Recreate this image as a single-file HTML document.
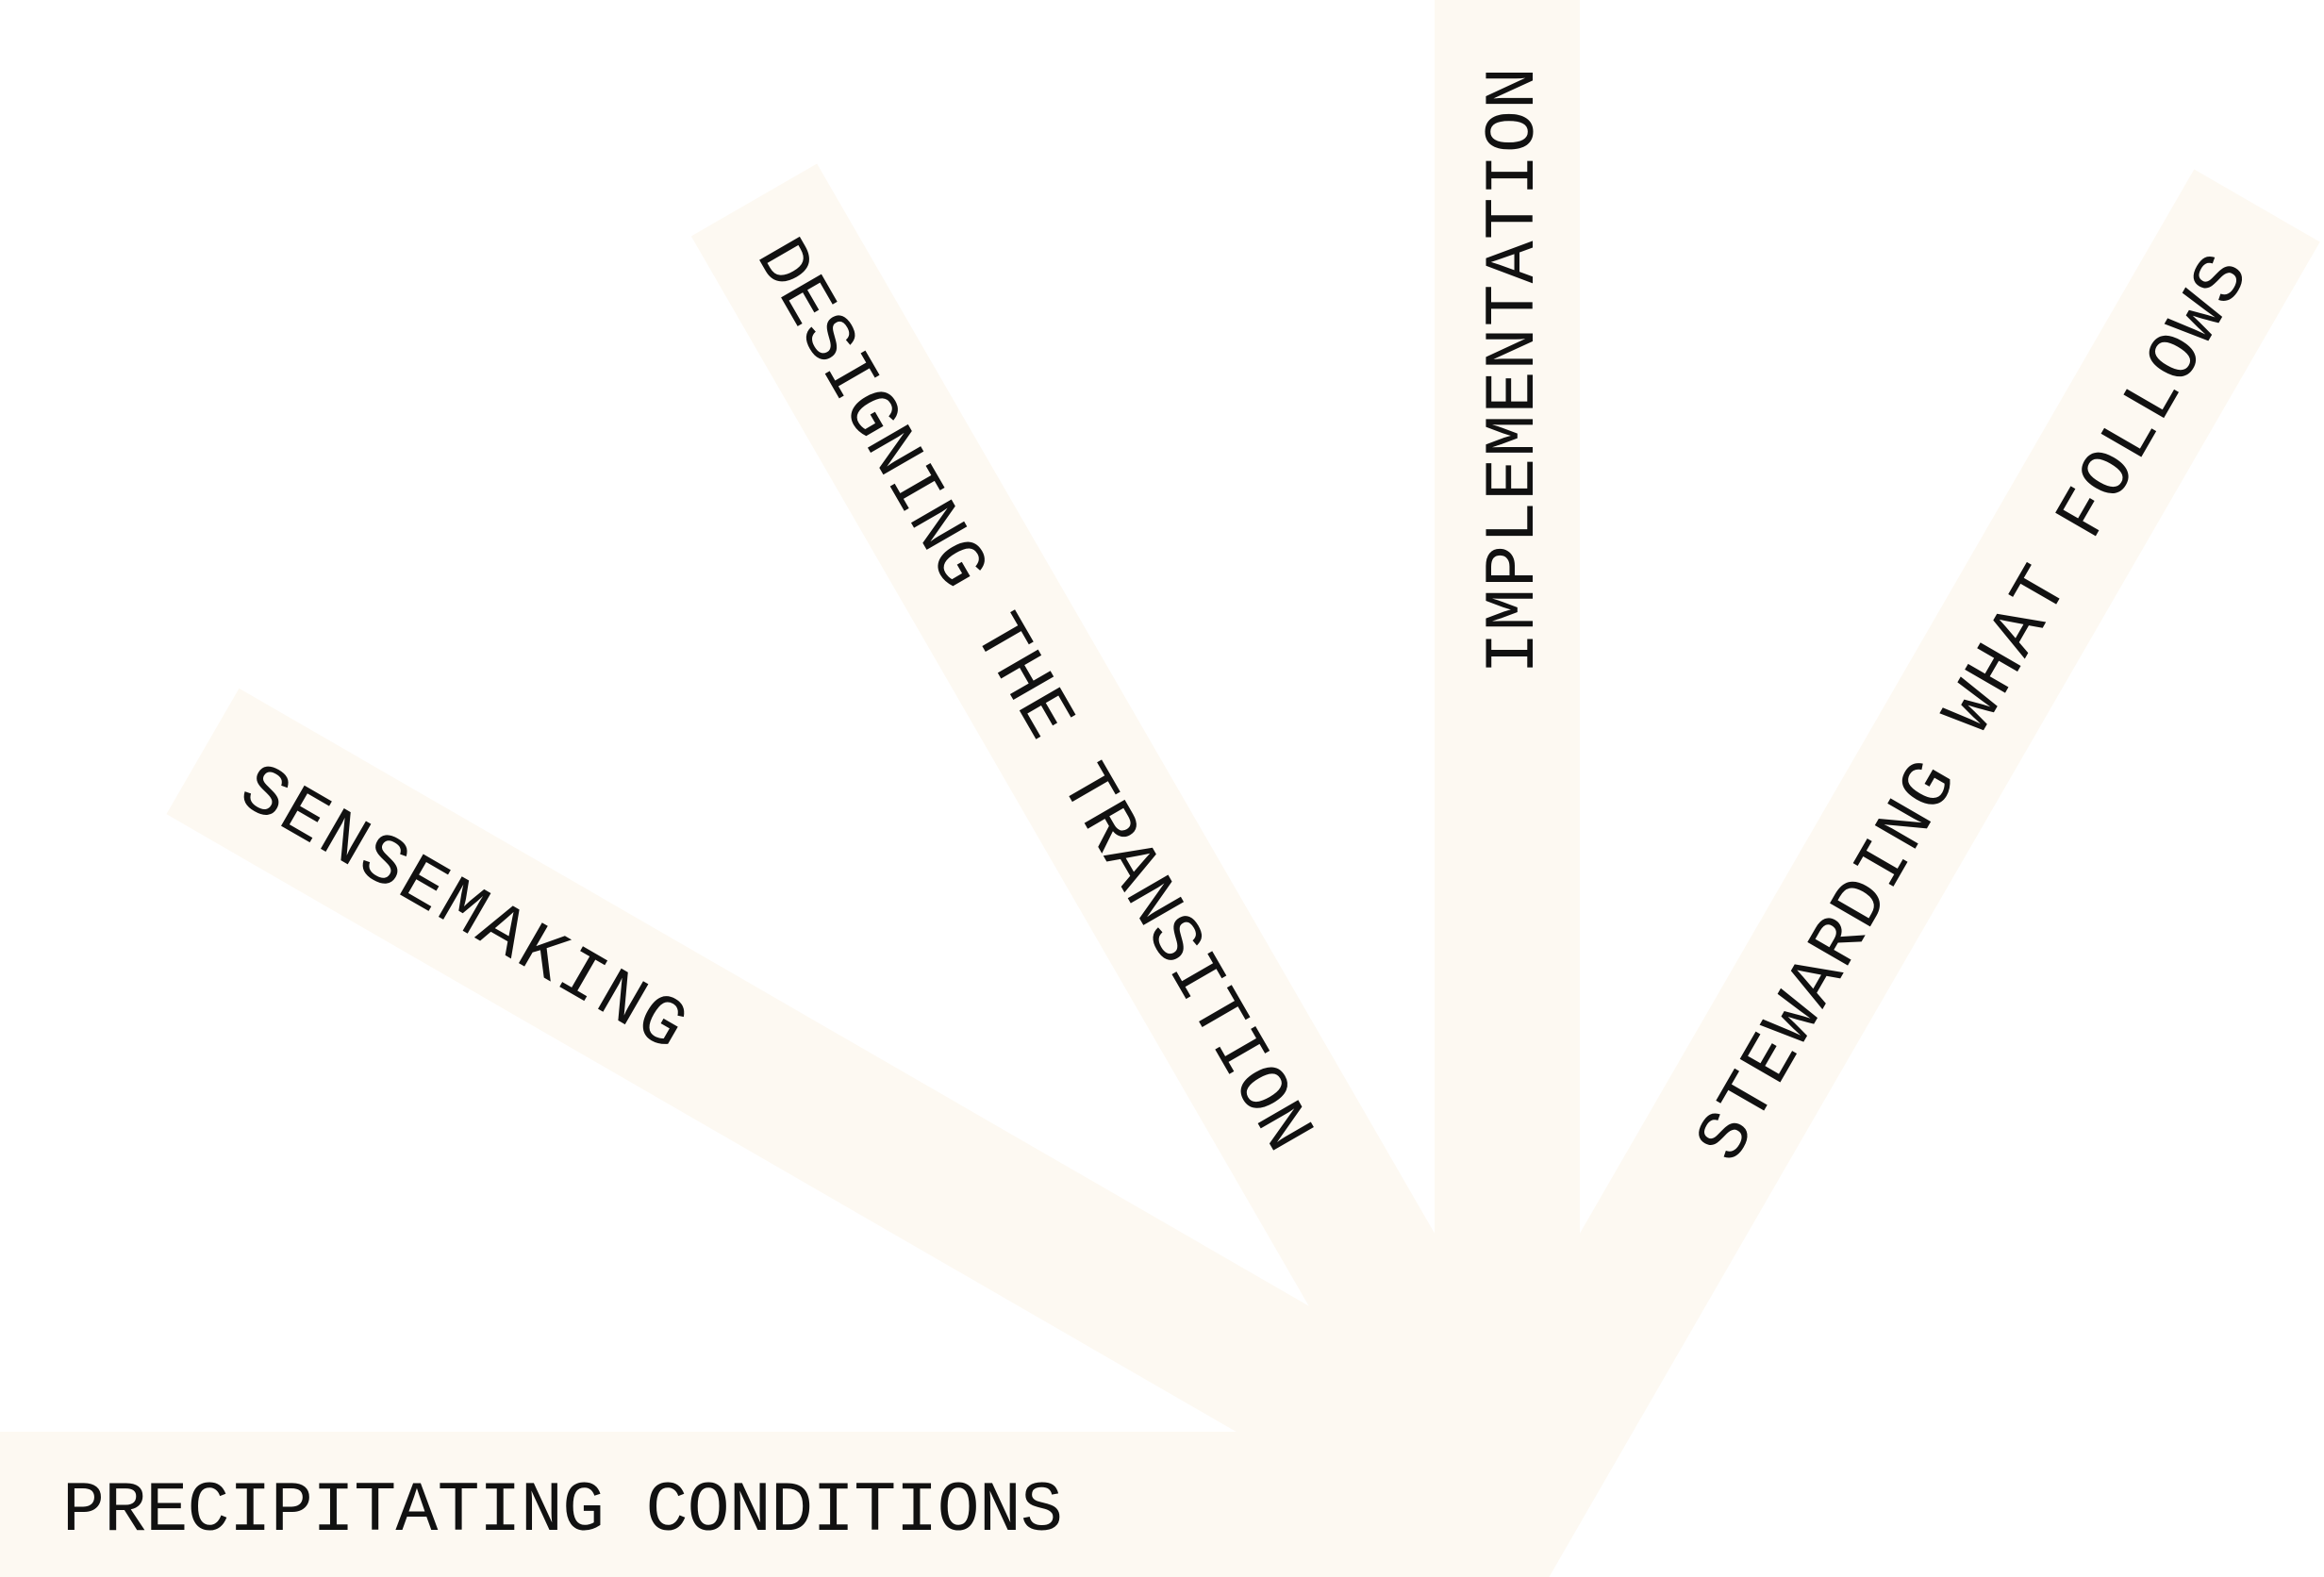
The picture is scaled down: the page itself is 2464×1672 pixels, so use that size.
<!DOCTYPE html>
<html><head><meta charset="utf-8"><style>
html,body{margin:0;padding:0;background:#fff;width:2464px;height:1672px;overflow:hidden}
svg{display:block}
text{font-family:"Liberation Mono",monospace;font-size:75px;fill:#111}
</style></head><body>
<svg width="2464" height="1672" viewBox="0 0 2464 1672" xmlns="http://www.w3.org/2000/svg">
<g fill="#fdf9f2">
  <circle cx="1598" cy="1595" r="77"/>
  <g transform="translate(1598,1595) rotate(180)"><rect x="0" y="-77" width="1700" height="154"/></g>
  <g transform="translate(1598,1595) rotate(210)"><rect x="0" y="-77" width="1597" height="154"/></g>
  <g transform="translate(1598,1595) rotate(240)"><rect x="0" y="-77" width="1597" height="154"/></g>
  <g transform="translate(1598,1595) rotate(270)"><rect x="0" y="-77" width="1700" height="154"/></g>
  <g transform="translate(1598,1595) rotate(300)"><rect x="-120" y="-77" width="1710" height="154"/></g>
</g>
<g transform="translate(1598,1595) rotate(0)"><text x="-1532" y="27" textLength="1061" lengthAdjust="spacing">PRECIPITATING CONDITIONS</text></g>
<g transform="translate(1598,1595) rotate(30)"><text x="-1540" y="27" textLength="530" lengthAdjust="spacing">SENSEMAKING</text></g>
<g transform="translate(1598,1595) rotate(60)"><text x="-1545" y="27" textLength="1102" lengthAdjust="spacing">DESIGNING THE TRANSITION</text></g>
<g transform="translate(1598,1595) rotate(270)"><text x="880" y="27" textLength="644" lengthAdjust="spacing">IMPLEMENTATION</text></g>
<g transform="translate(1598,1595) rotate(300)"><text x="431" y="27" textLength="1094" lengthAdjust="spacing">STEWARDING WHAT FOLLOWS</text></g>
</svg>
</body></html>
